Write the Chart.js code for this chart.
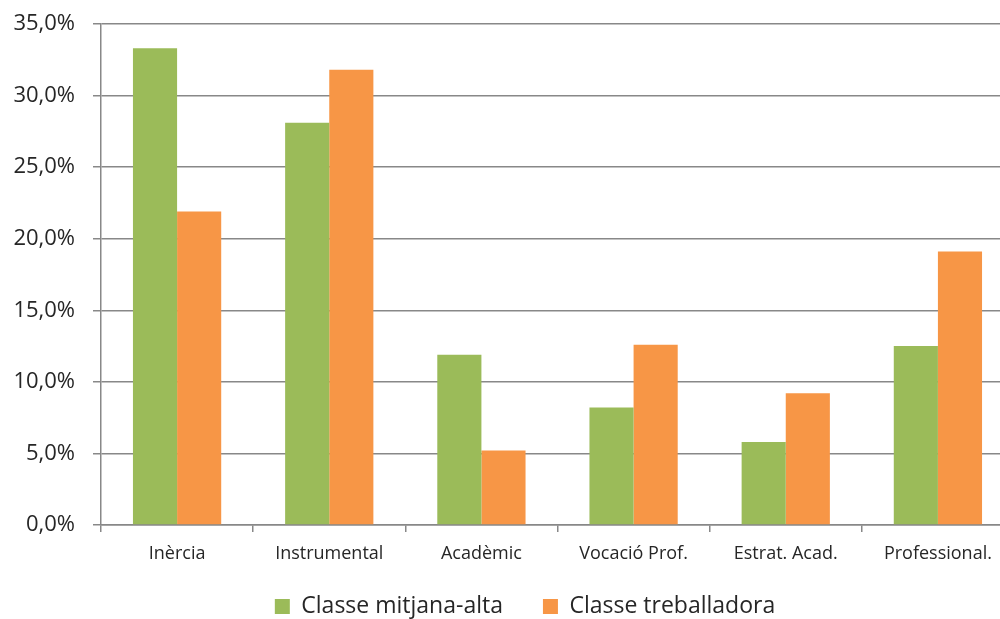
<!DOCTYPE html>
<html><head><meta charset="utf-8">
<script src="https://cdn.jsdelivr.net/npm/chart.js@4/dist/chart.umd.min.js"></script>
<style>
html,body{margin:0;padding:0;background:#fff;overflow:hidden;}
#wrap{width:1014px;height:619px;position:relative;}
</style></head><body>
<div id="wrap"><canvas id="c"></canvas></div>
<script>
const categories = ['Inèrcia','Instrumental','Acadèmic','Vocació Prof.','Estrat. Acad.','Professional.'];
const mitjanaAlta = [33.3, 28.1, 11.9, 8.2, 5.8, 12.5];
const treballadora = [21.9, 31.8, 5.2, 12.6, 9.2, 19.1];
const seriesNames = ['Classe mitjana-alta','Classe treballadora'];
const yTicks = [0,5,10,15,20,25,30,35];

const FONT = "'Open Sans', 'Noto Sans', sans-serif";
const placeLegend = {
  id: 'placeLegend',
  afterLayout(chart) {
    const lg = chart.legend;
    if (lg) { lg.left += 18; lg.right += 18; lg.top = 555; lg.bottom = 619; lg.height = lg.bottom - lg.top; }
  }
};
new Chart(document.getElementById('c'), {
  type: 'bar',
  data: {
    labels: categories,
    datasets: [
      {label: seriesNames[0], data: mitjanaAlta, backgroundColor: '#9bbb59', borderWidth: 0},
      {label: seriesNames[1], data: treballadora, backgroundColor: '#f79646', borderWidth: 0}
    ]
  },
  plugins: [placeLegend],
  options: {
    responsive: true, maintainAspectRatio: false, animation: false,
    layout: {padding: {top: 24, right: 0, left: 0, bottom: 0}},
    datasets: {bar: {categoryPercentage: 0.58, barPercentage: 1.0}},
    plugins: {
      legend: {position: 'bottom', maxHeight: 50, labels: {font: {family: FONT, size: 23}, color: '#262626', boxWidth: 15, boxHeight: 15, padding: 40}},
      tooltip: {enabled: false}
    },
    scales: {
      x: {
        grid: {display: true, drawOnChartArea: false, drawTicks: true, tickLength: 7, color: '#888', lineWidth: 1.5, offset: true},
        border: {display: true, color: '#888', width: 1.5},
        ticks: {font: {family: FONT, size: 18}, color: '#262626', padding: 11, maxRotation: 0},
        afterFit: s => { s.height = 44; }
      },
      y: {
        min: 0, max: 35,
        afterBuildTicks: s => { s.ticks = yTicks.map(v => ({value: v})); },
        grid: {color: '#888', lineWidth: 1.5, tickLength: 8},
        border: {display: true, color: '#888', width: 1.5},
        ticks: {font: {family: FONT, size: 22}, color: '#262626', padding: 18,
          callback: v => v.toFixed(1).replace('.', ',') + '%'},
        afterFit: s => { s.width = 101; s.paddingTop = 0; s.paddingBottom = 0; }
      }
    }
  }
});
</script>
</body></html>
